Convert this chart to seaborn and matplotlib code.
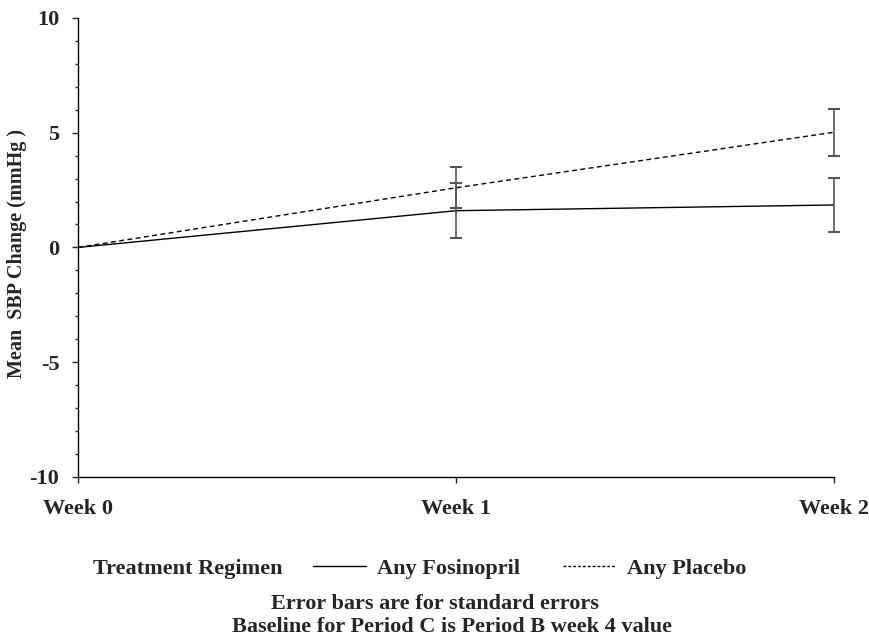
import matplotlib
matplotlib.use('Agg')
import matplotlib.pyplot as plt
import seaborn as sns
import pandas as pd
from matplotlib.lines import Line2D
from matplotlib.ticker import MultipleLocator

# data
weeks = ["Week 0", "Week 1", "Week 2"]
week_num = [0, 1, 2]
fosinopril_mean = [0.0, 1.6, 1.85]
fosinopril_se = [0.0, 1.2, 1.18]
placebo_mean = [0.0, 2.6, 5.02]
placebo_se = [0.0, 0.9, 1.03]

df = pd.DataFrame({
    "week": week_num * 2,
    "change": fosinopril_mean + placebo_mean,
    "se": fosinopril_se + placebo_se,
    "regimen": ["Any Fosinopril"] * 3 + ["Any Placebo"] * 3,
})

sns.set_style("ticks")
plt.rcParams['font.family'] = ['Liberation Serif', 'DejaVu Serif']
plt.rcParams['font.weight'] = 'bold'
FS = 16

fig = plt.figure(figsize=(8.7, 6.41), dpi=100)
ax = fig.add_axes([0.0897, 0.256, 0.869, 0.716])

sns.lineplot(data=df, x="week", y="change", hue="regimen", style="regimen",
             dashes={"Any Fosinopril": "", "Any Placebo": (3.5, 2.5)},
             palette={"Any Fosinopril": "black", "Any Placebo": "black"},
             linewidth=1.0, ax=ax, legend=False)

for reg, grp in df.groupby("regimen"):
    g = grp[grp["week"] > 0]
    ax.errorbar(g["week"], g["change"], yerr=g["se"], fmt="none",
                ecolor="#555555", elinewidth=1.2, capsize=4, capthick=1.5,
                clip_on=False)

ax.set_xlim(0, 2)
ax.set_ylim(-10, 10)
ax.set_xticks(week_num)
ax.set_xticklabels(weeks)
ax.set_yticks([-10, -5, 0, 5, 10])
ax.set_yticklabels(["-10", "-5", "0", "5", "10"])
ax.yaxis.set_minor_locator(MultipleLocator(1))
ax.tick_params(axis="y", which="major", length=4.5, width=1, labelsize=FS, pad=9)
ax.tick_params(axis="y", which="minor", length=2.5, width=1)
ax.tick_params(axis="x", which="major", length=4, width=1, labelsize=FS, pad=12)
for lab in ax.get_xticklabels() + ax.get_yticklabels():
    lab.set_fontweight("bold")
ax.set_xlabel("")
ax.set_ylabel("Mean  SBP Change (mmHg )", fontsize=14.5, fontweight="bold")
ax.yaxis.set_label_coords(-0.0675, 0.487)
for side in ["top", "right"]:
    ax.spines[side].set_visible(False)
for side in ["left", "bottom"]:
    ax.spines[side].set_color("black")
    ax.spines[side].set_linewidth(1.0)

fig.text(93 / 870, 0.113, "Treatment Regimen", ha="left", va="center",
         fontsize=FS, fontweight="bold")
handles = [
    Line2D([], [], color="black", linewidth=1.0),
    Line2D([], [], color="black", linewidth=1.0, linestyle=(0, (2, 1.5))),
]
labels = ["Any Fosinopril", "Any Placebo"]
fig.legend(handles, labels, loc="center left", bbox_to_anchor=(313 / 870, 0.113),
           ncol=2, frameon=False, handlelength=2.4, handletextpad=0.5,
           columnspacing=1.9, borderpad=0, borderaxespad=0,
           prop={"weight": "bold", "size": FS})

fig.text(435 / 870, 0.058, "Error bars are for standard errors", ha="center",
         va="center", fontsize=FS, fontweight="bold")
fig.text(232 / 870, 0.022, "Baseline for Period C is Period B week 4 value", ha="left",
         va="center", fontsize=FS, fontweight="bold")

fig.savefig("out.png", dpi=100)
